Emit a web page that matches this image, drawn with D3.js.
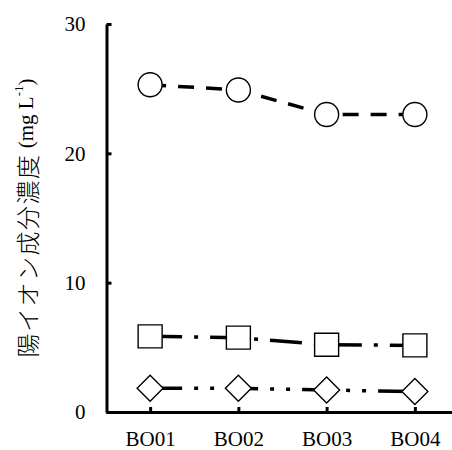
<!DOCTYPE html>
<html lang="en">
<head>
<meta charset="utf-8">
<script src="https://cdn.jsdelivr.net/npm/d3@7"></script>
<style>
  body { margin: 0; background: #fff; }
  svg { display: block; }
</style>
</head>
<body>
<svg id="chart" width="452" height="450"></svg>
<script>
// sites along the x axis
const sites = ['BO01', 'BO02', 'BO03', 'BO04'];

// cation concentrations (mg L-1)
const circleSeries = [25.3, 24.9, 23.0, 23.0];
const squareSeries = [5.85, 5.75, 5.2, 5.15];
const diamondSeries = [1.83, 1.83, 1.7, 1.58];

const yTicks = [0, 10, 20, 30];

const svg = d3.select('#chart');
const serif = 'Liberation Serif, Tinos, Times New Roman, serif';

const x = d3.scalePoint()
  .domain(sites)
  .range([106, 459])
  .padding(0.5);

const y = d3.scaleLinear()
  .domain([0, 30])
  .range([412, 24]);

// axes, ticks point inward
const xAxis = svg.append('g')
  .attr('transform', `translate(0,${y(0)})`)
  .call(d3.axisBottom(x).tickSizeInner(-5).tickSizeOuter(0).tickPadding(19));

const yAxis = svg.append('g')
  .attr('transform', `translate(${x.range()[0] + 0.5},0)`)
  .call(d3.axisLeft(y).tickValues(yTicks).tickSizeInner(-5).tickSizeOuter(0).tickPadding(21));

[xAxis, yAxis].forEach(a => {
  a.attr('font-family', serif).attr('font-size', 21);
  a.select('.domain').attr('stroke', '#000').attr('stroke-width', 3);
  a.selectAll('.tick line').attr('stroke', '#000').attr('stroke-width', 3);
  a.selectAll('.tick text')
    .attr('font-family', serif)
    .attr('font-size', 21)
    .attr('fill', '#000');
});

// y title
const title = svg.append('text')
  .attr('transform', 'translate(26,218) rotate(-90)')
  .attr('text-anchor', 'middle')
  .attr('dominant-baseline', 'central')
  .attr('font-family', serif)
  .attr('font-size', 21)
  .attr('fill', '#000');

title.append('tspan')
  .attr('lang', 'ja')
  .attr('font-family', 'Noto Sans CJK JP')
  .attr('font-size', 24)
  .attr('font-weight', 300)
  .attr('letter-spacing', 1.5)
  .text('陽イオン成分濃度');
title.append('tspan')
  .attr('font-family', serif)
  .text(' (mg L');
title.append('tspan')
  .attr('font-family', serif)
  .attr('font-size', 13)
  .attr('dy', -8)
  .text('-1');
title.append('tspan')
  .attr('font-family', serif)
  .attr('dy', 8)
  .text(')');

const line = d3.line()
  .x((d, i) => x(sites[i]))
  .y(d => y(d));

const drawSeries = (values, dash, marker) => {
  svg.append('path')
    .datum(values)
    .attr('fill', 'none')
    .attr('stroke', '#000')
    .attr('stroke-width', 3.5)
    .attr('stroke-dasharray', dash)
    .attr('d', line);

  svg.append('g')
    .selectAll('path')
    .data(values)
    .join('path')
    .attr('transform', (d, i) => `translate(${x(sites[i])},${y(d)})`)
    .attr('d', marker)
    .attr('fill', '#fff')
    .attr('stroke', '#000')
    .attr('stroke-width', 1.4);
};

const circlePath = 'M12,0A12,12 0 1,1 -12,0A12,12 0 1,1 12,0Z';
const squarePath = 'M-12,-11.5H12V11.5H-12Z';
const diamondPath = 'M0,-13L13,0L0,13L-13,0Z';

drawSeries(circleSeries, '16,12', circlePath);
drawSeries(squareSeries, '32,12,4,12', squarePath);
drawSeries(diamondSeries, '32,12,4,12,4,12', diamondPath);
</script>
</body>
</html>
